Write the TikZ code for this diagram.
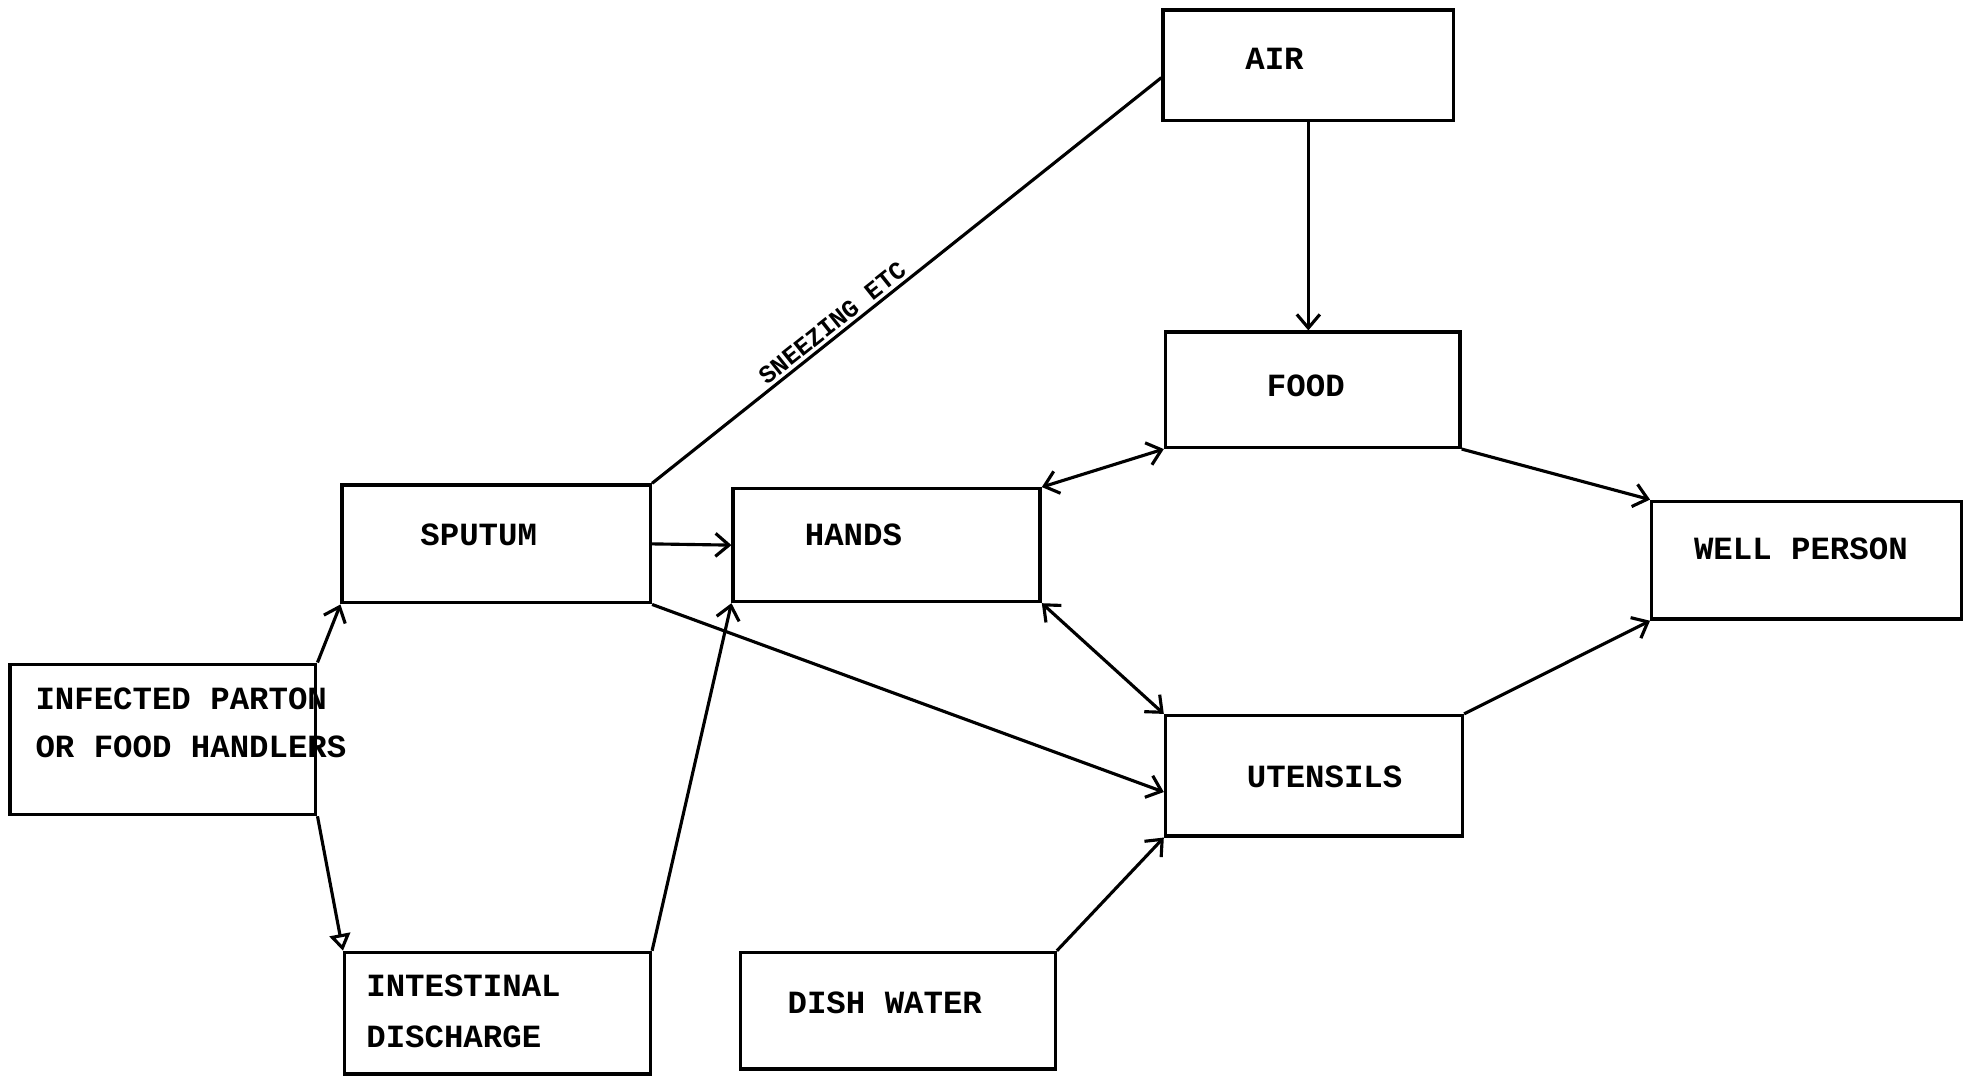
\documentclass[tikz,border=0pt]{standalone}
\usepackage{fontspec}
\setmonofont{Liberation Mono}
\usetikzlibrary{arrows.meta,calc}
\begin{document}
\begin{tikzpicture}[x=0.6pt,y=-0.6pt,
  box/.style 2 args={draw, line width=1.6pt, inner sep=0pt, minimum width=#1*0.6pt, minimum height=#2*0.6pt},
  lbl/.style={font=\fontsize{15.5}{18}\selectfont\ttfamily\bfseries, inner sep=0pt},
  conn/.style={line width=1.5pt},
  arr/.style={conn, -{Straight Barb[length=6.5pt,width=11pt]}},
  dbl/.style={conn, {Straight Barb[length=6.5pt,width=11pt]}-{Straight Barb[length=6.5pt,width=11pt]}},
  tri/.style={conn, -{Triangle[open,length=8pt,width=10pt]}}
]
\useasboundingbox (0,0) rectangle (1568,862);

% boxes
\node[box={232}{88}]  (air)        at (1044,52)    {};
\node[box={235}{92}]  (food)       at (1047.5,311) {};
\node[box={246}{94}]  (sputum)     at (396,434)    {};
\node[box={245}{90}]  (hands)      at (707.5,435)  {};
\node[box={247}{94}]  (well)       at (1441.5,447) {};
\node[box={244}{120}] (infected)   at (130,590)    {};
\node[box={237}{96}]  (utensils)   at (1048.5,619) {};
\node[box={244}{97}]  (intestinal) at (397,808.5)  {};
\node[box={251}{93}]  (dish)       at (716.5,806.5){};

% texts
\node[lbl] (airt)   at (1017,47)  {AIR};
\node[lbl] (foodt)  at (1042,308) {FOOD};
\node[lbl] (sputt)  at (382,427)  {SPUTUM};
\node[lbl] (handt)  at (681,427)  {HANDS};
\node[lbl] (wellt)  at (1437,438) {WELL PERSON};
\node[lbl] (utent)  at (1057,620) {UTENSILS};
\node[lbl] (disht)  at (706,800)  {DISH WATER};
\node[lbl, anchor=west] (inft1) at (28,558) {INFECTED PARTON};
\node[lbl, anchor=west] (inft2) at (28,596) {OR FOOD HANDLERS};
\node[lbl, anchor=west] (intt1) at (292,787) {INTESTINAL};
\node[lbl, anchor=west] (intt2) at (292,827) {DISCHARGE};

% connectors
\draw[conn] (sputum.north east) -- node[pos=0.37, above, sloped, inner sep=1.5pt,
   font=\fontsize{12}{12}\selectfont\ttfamily\bfseries] (sneeze) {SNEEZING ETC}
   ($(air.west)+(0,10)$);
\draw[arr] (infected.north east) -- (sputum.south west);
\draw[tri] (infected.south east) -- (intestinal.north west);
\draw[arr] (sputum.east) -- (hands.west);
\draw[arr] (intestinal.north east) -- (hands.south west);
\draw[arr] (sputum.south east) -- ($(utensils.west)+(0,13)$);
\draw[arr] (air.south) -- (air.south |- food.north);
\draw[dbl] (hands.north east) -- (food.south west);
\draw[dbl] (hands.south east) -- (utensils.north west);
\draw[arr] (food.south east) -- (well.north west);
\draw[arr] (utensils.north east) -- (well.south west);
\draw[arr] (dish.north east) -- (utensils.south west);
\end{tikzpicture}
\end{document}
